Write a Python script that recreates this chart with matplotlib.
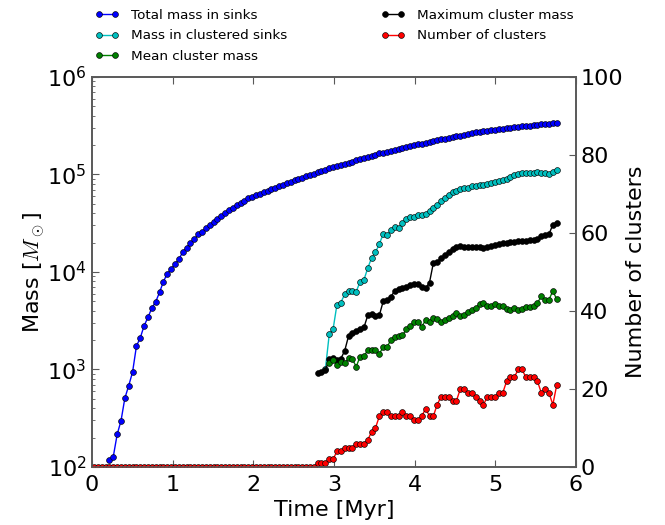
import matplotlib
matplotlib.use('Agg')
import matplotlib.pyplot as plt

plt.rcParams['font.family'] = ['DejaVu Sans']

# snapshot times [Myr]
time = [0.025, 0.073, 0.121, 0.168, 0.216, 0.264, 0.312, 0.360, 0.407, 0.455,
        0.503, 0.551, 0.599, 0.646, 0.694, 0.742, 0.790, 0.838, 0.885, 0.933,
        0.981, 1.029, 1.077, 1.124, 1.172, 1.220, 1.268, 1.316, 1.363, 1.411,
        1.459, 1.507, 1.555, 1.602, 1.650, 1.698, 1.746, 1.794, 1.841, 1.889,
        1.937, 1.985, 2.033, 2.080, 2.128, 2.176, 2.224, 2.272, 2.319, 2.367,
        2.415, 2.463, 2.511, 2.558, 2.606, 2.654, 2.702, 2.750, 2.797, 2.845,
        2.893, 2.941, 2.989, 3.036, 3.084, 3.132, 3.180, 3.228, 3.275, 3.323,
        3.371, 3.419, 3.467, 3.514, 3.562, 3.610, 3.658, 3.706, 3.753, 3.801,
        3.849, 3.897, 3.945, 3.992, 4.040, 4.088, 4.136, 4.184, 4.231, 4.279,
        4.327, 4.375, 4.423, 4.470, 4.518, 4.566, 4.614, 4.662, 4.709, 4.757,
        4.805, 4.853, 4.901, 4.948, 4.996, 5.044, 5.092, 5.140, 5.187, 5.235,
        5.283, 5.331, 5.379, 5.426, 5.474, 5.522, 5.570, 5.618, 5.665, 5.713,
        5.761]

# total mass in sinks (from snapshot index 4)
total_start = 4
total_mass = [118, 128, 216, 299, 507, 682, 942, 1740, 2120, 2810, 3430, 4270,
              4960, 6200, 7960, 9620, 10700, 12200, 13500, 16000, 17700, 19700,
              21600, 24400, 25900,
              28000, 30300, 32700, 35100, 37600, 40300, 43000, 45700, 48500,
              51300, 54000, 56800,
              58600, 61000, 63200, 65600, 68100, 70600, 73300, 76000, 78900, 81800,
              84700, 87300, 90200, 92900, 95900, 98900, 102100, 105200, 108400,
              111700, 115300,
              118600, 121900, 125300, 128800, 132100, 135800, 139600, 143600,
              147200, 151400, 155600, 160000, 164400,
              167900, 171400, 175000, 179100, 182800, 186600, 190500, 194500,
              199100, 203200, 207500, 211800, 216300,
              220300, 224400, 228600, 232800, 237100, 241500, 246000, 250600,
              255300, 260000, 264900, 269800, 274800,
              278600, 281800, 285100, 288400, 291700, 295100, 298500, 302000,
              305500, 308300, 311200, 314100, 317000, 319900, 322800, 325800,
              328900, 331900, 335000, 338100]

# mass in clustered sinks (from index 60)
clustered_start = 60
clustered_mass = [1000, 2300, 2600, 4600, 4850, 5900, 6400, 6400, 6300, 7900,
                  8300, 11000, 14000, 15900, 19400, 24500, 23900, 26900, 28700, 28000,
                  32000, 35300, 37000, 37000, 38100, 38700, 39400, 42000, 45000, 49000,
                  54000, 58000, 61000, 65500, 68000, 70400, 72000, 73500, 75500, 77000,
                  77500, 78500, 80500, 82000, 83500, 85000, 87500, 90500, 94000, 98000,
                  101500, 103000, 103000, 103000, 104500, 106000, 104500, 102500,
                  100500, 105000, 111000]

# maximum cluster mass (from index 58)
max_start = 58
max_mass = [930, 950, 980, 1270, 1300, 1260, 1290, 1550, 2200, 2350,
            2500, 2600, 2700, 3600, 3700, 3500, 3600, 5000, 5200, 5600,
            6400, 6650, 6800, 7000, 7300, 7500, 7500, 7100, 6800, 7800,
            12300, 12800, 13800, 15000, 16000, 17100, 17900, 18500, 18200, 18000,
            18000, 18000, 18000, 17800, 17900, 18600, 18900, 19300, 19800, 20000,
            20200, 20500, 20700, 21000, 21000, 21200, 21400, 21800, 23500, 24200,
            24500, 30500, 31500]

# mean cluster mass (from index 61)
mean_start = 61
mean_mass = [1160, 1250, 1100, 1200, 1170, 1300, 1280, 1070, 1350, 1370,
             1580, 1580, 1580, 1450, 1700, 1690, 2030, 2170, 2200, 2240,
             2580, 2790, 3070, 3100, 2750, 3220, 3100, 3400, 3300, 3100,
             3250, 3350, 3550, 3800, 3500, 3650, 3850, 4050, 4300, 4650,
             4800, 4450, 4500, 4650, 4450, 4500, 4150, 4050, 4300, 4050,
             4200, 4350, 4350, 4450, 4800, 5650, 5150, 5200, 6400, 5250]

# number of clusters (all snapshots)
n_clusters = [0, 0, 0, 0, 0, 0, 0, 0, 0, 0, 0, 0, 0, 0, 0, 0, 0, 0, 0, 0,
              0, 0, 0, 0, 0, 0, 0, 0, 0, 0, 0, 0, 0, 0, 0, 0, 0, 0, 0, 0,
              0, 0, 0, 0, 0, 0, 0, 0, 0, 0, 0, 0, 0, 0, 0, 0, 0, 0,
              1, 1, 1, 2, 2, 4, 4, 5, 5, 5,
              6, 6, 6, 7, 9, 10, 13, 14, 14, 13,
              13, 13, 14, 13, 13, 12, 12, 13, 15, 13,
              13, 16, 18, 18, 18, 17, 17, 20, 20, 19,
              19, 18, 17, 16, 18, 18, 18, 19, 19, 22,
              23, 23, 25, 25, 23, 23, 23, 22, 19, 20,
              19, 16, 21]

labels = ['Total mass in sinks', 'Mass in clustered sinks', 'Mean cluster mass',
          'Maximum cluster mass', 'Number of clusters']

W, H = 665, 525
fig = plt.figure(figsize=(W / 100, H / 100), dpi=100)
ax = fig.add_axes([92 / W, 58 / H, 484 / W, 390 / H])
ax2 = ax.twinx()

mk = dict(marker='o', ms=4.2, mec='k', mew=0.45, lw=1.0)
l1, = ax.plot(time[total_start:], total_mass, color='b', mfc='b', **mk)
l2, = ax.plot(time[clustered_start:], clustered_mass, color='c', mfc='c', **mk)
l4, = ax.plot(time[max_start:], max_mass, color='k', mfc='k', **mk)
l3, = ax.plot(time[mean_start:], mean_mass, color='g', mfc='g', **mk)
l5, = ax2.plot(time, n_clusters, color='r', mfc='r', **mk)

ax.set_xlim(0, 6)
ax.set_yscale('log')
ax.set_ylim(1e2, 1e6)
ax2.set_ylim(0, 100)
ax2.set_yticks([0, 20, 40, 60, 80, 100])

spine_c = '0.35'
for a in (ax, ax2):
    for s in a.spines.values():
        s.set_color(spine_c)
        s.set_linewidth(1.2)

ax.tick_params(axis='both', which='both', direction='in', top=True, right=False,
               labelsize=16, colors='k')
ax.tick_params(axis='both', which='major', length=5, width=0.8, color=spine_c)
ax.tick_params(axis='both', which='minor', length=2.5, width=0.6, color=spine_c)
ax.tick_params(axis='y', pad=4)
ax.tick_params(axis='x', pad=6)
ax2.tick_params(axis='y', which='major', direction='in', length=5, width=0.8,
                color=spine_c, labelsize=16, pad=3)

ax.set_xlabel('Time [Myr]', fontsize=16, labelpad=3)
ax.set_ylabel(r'Mass [$M_\odot$]', fontsize=16, math_fontfamily='cm', labelpad=0)
ax2.set_ylabel('Number of clusters', fontsize=16, labelpad=2)

fig.legend(handles=[l1, l2, l3, l4, l5], labels=labels, loc='upper left',
           bbox_to_anchor=(0.143, 0.983), ncol=2, frameon=False, fontsize=9.7,
           numpoints=2, handlelength=1.75, handletextpad=0.9, labelspacing=0.55,
           columnspacing=7.0, borderaxespad=0, borderpad=0)

fig.savefig('out.png', dpi=100, facecolor='white')
